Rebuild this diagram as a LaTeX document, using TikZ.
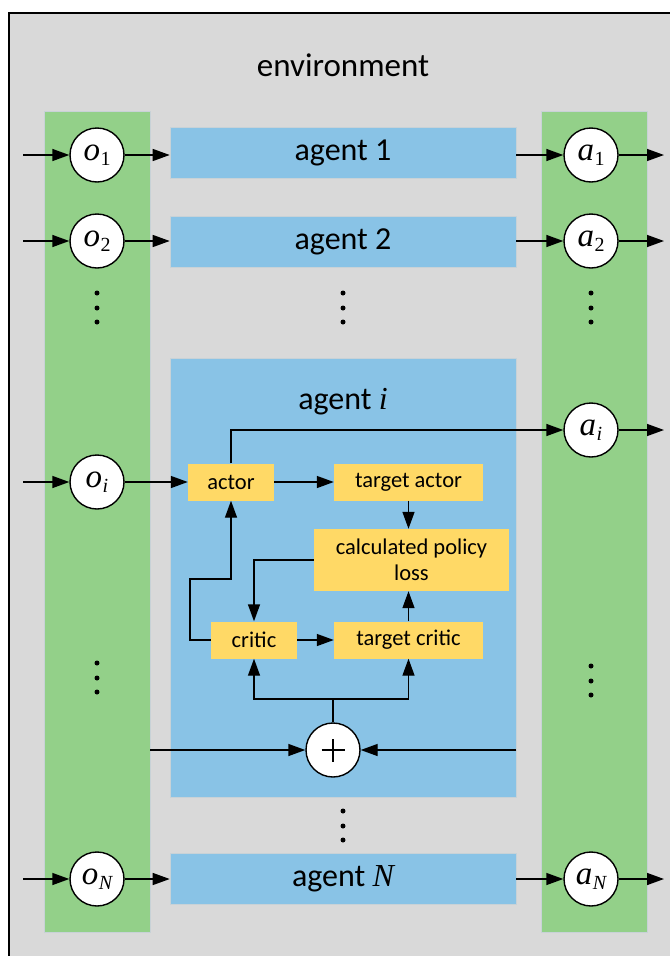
\documentclass[tikz,border=0pt]{standalone}
\usepackage{fontspec}
\setmainfont{Carlito}
\newfontfamily\tms{Liberation Serif}
\usetikzlibrary{arrows.meta}
\definecolor{envgray}{RGB}{217,217,217}
\definecolor{colgreen}{RGB}{147,208,137}
\definecolor{agblue}{RGB}{137,195,230}
\definecolor{boxyellow}{RGB}{255,217,102}
\definecolor{edgegray}{RGB}{200,210,215}
\newcommand{\sv}[2]{{\tms\fontsize{33}{33}\selectfont\itshape #1\kern0.5pt\raisebox{-5pt}{\fontsize{20}{20}\selectfont\upshape #2}}}
\newcommand{\svi}[2]{{\tms\fontsize{33}{33}\selectfont\itshape #1\kern0.5pt\raisebox{-5pt}{\fontsize{20}{20}\selectfont\itshape #2}}}
\tikzset{
  arr/.style={line width=1.4pt,-{Triangle[length=17pt,width=12pt]}},
  ln/.style={line width=1.4pt},
  colbox/.style={fill=colgreen,draw=edgegray,line width=0.6pt,inner sep=0pt,minimum width=106pt,minimum height=821pt},
  agbox/.style={fill=agblue,draw=edgegray,line width=0.6pt,inner sep=0pt,minimum width=346pt,minimum height=51pt,font=\fontsize{32}{32}\selectfont},
  varc/.style={circle,fill=white,draw=black,line width=1.4pt,inner sep=0pt,minimum size=54pt},
  ybox/.style={fill=boxyellow,inner sep=0pt,minimum height=37pt,font=\fontsize{22.5}{26}\selectfont,align=center},
  vdot/.style={circle,fill=black,inner sep=0pt,minimum size=5pt}
}
\begin{document}
\begin{tikzpicture}[x=1pt,y=-1pt]
\useasboundingbox (0,0) rectangle (670,956);
\fill[envgray] (9,13) rectangle (670,956);
\draw[line width=2pt] (9,956) -- (9,13) -- (670,13);
\node[font=\fontsize{33}{33}\selectfont] (env) at (343,65) {environment};
% columns
\node[colbox] (lcol) at (97,521.5) {};
\node[colbox] (rcol) at (594.5,521.5) {};
% agents
\node[agbox] (ag1) at (343,152.5) {agent 1};
\node[agbox] (ag2) at (343,241.5) {agent 2};
\node[agbox] (agN) at (343,879) {agent {\tms\itshape N}};
\node[agbox,minimum height=439pt] (agi) at (343,577.5) {};
\node[font=\fontsize{32}{32}\selectfont] (agil) at (343,402) {agent {\tms\itshape i}};
% circles
\node[varc] (o1) at (97,155) {\sv{o}{1}};
\node[varc] (o2) at (97,241) {\sv{o}{2}};
\node[varc] (oi) at (97,482) {\svi{o}{i}};
\node[varc] (oN) at (97,879) {\svi{o}{N}};
\node[varc] (a1) at (591,155) {\sv{a}{1}};
\node[varc] (a2) at (591,241) {\sv{a}{2}};
\node[varc] (ai) at (591,430) {\svi{a}{i}};
\node[varc] (aN) at (591,879) {\svi{a}{N}};
% dots
\foreach \x/\n in {97/l,343/m,591/r}{
  \node[vdot] (d\n1) at (\x,293) {};
  \node[vdot] (d\n2) at (\x,308) {};
  \node[vdot] (d\n3) at (\x,322) {};
}
\node[vdot] (dl4) at (97,663) {};
\node[vdot] (dl5) at (97,678) {};
\node[vdot] (dl6) at (97,692) {};
\node[vdot] (dr4) at (591,666) {};
\node[vdot] (dr5) at (591,681) {};
\node[vdot] (dr6) at (591,695) {};
\node[vdot] (db1) at (343,811) {};
\node[vdot] (db2) at (343,826) {};
\node[vdot] (db3) at (343,840) {};
% inner boxes
\node[ybox,minimum width=86pt] (actor) at (231,482) {actor};
\node[ybox,minimum width=149pt] (tactor) at (408.5,482) {target actor};
\node[ybox,minimum width=195pt,minimum height=62pt] (calc) at (411.5,560) {calculated policy\\loss};
\node[ybox,minimum width=86pt] (critic) at (254,640) {critic};
\node[ybox,minimum width=149pt] (tcritic) at (408.5,640) {target critic};
\node[varc] (plus) at (333,750) {};
\draw[line width=1.3pt] ([xshift=-11.5pt]plus.center) -- ([xshift=11.5pt]plus.center);
\draw[line width=1.3pt] ([yshift=-11.5pt]plus.center) -- ([yshift=11.5pt]plus.center);
% outer connectors
\coordinate (i1) at (23,155);
\coordinate (i2) at (23,241);
\coordinate (ii) at (23,482);
\coordinate (iN) at (23,879);
\coordinate (x1) at (664,155);
\coordinate (x2) at (664,241);
\coordinate (xi) at (664,430);
\coordinate (xN) at (664,879);
\foreach \k in {1,2,i,N}{
  \draw[arr] (i\k) -- (o\k.west);
  \draw[arr] (a\k.east) -- (x\k);
}
\draw[arr] (o1.east) -- (o1 -| ag1.west);
\draw[arr] (o2.east) -- (o2 -| ag2.west);
\draw[arr] (oN.east) -- (oN -| agN.west);
\draw[arr] (a1 -| ag1.east) -- (a1.west);
\draw[arr] (a2 -| ag2.east) -- (a2.west);
\draw[arr] (aN -| agN.east) -- (aN.west);
% inner connectors
\draw[arr] (oi.east) -- (actor.west);
\draw[arr] (actor.north) |- (ai.west);
\draw[arr] (actor) -- (tactor);
\draw[arr] (tactor.south) -- (tactor.south |- calc.north);
\draw[arr] (calc.west) -| (critic.north);
\coordinate (k1) at (190,579);
\draw[arr] (critic.west) -| (k1) -- (k1 -| actor.south) -- (actor.south);
\draw[arr] (critic) -- (tcritic);
\draw[arr] (tcritic.north) -- (tcritic.north |- calc.south);
\coordinate (j) at (333,699);
\draw[ln] (plus.north) -- (j);
\draw[arr] (j) -| (critic.south);
\draw[arr] (j) -| (tcritic.south);
\draw[arr] (lcol.east |- plus) -- (plus.west);
\draw[arr] (agi.east |- plus) -- (plus.east);
\end{tikzpicture}
\end{document}
